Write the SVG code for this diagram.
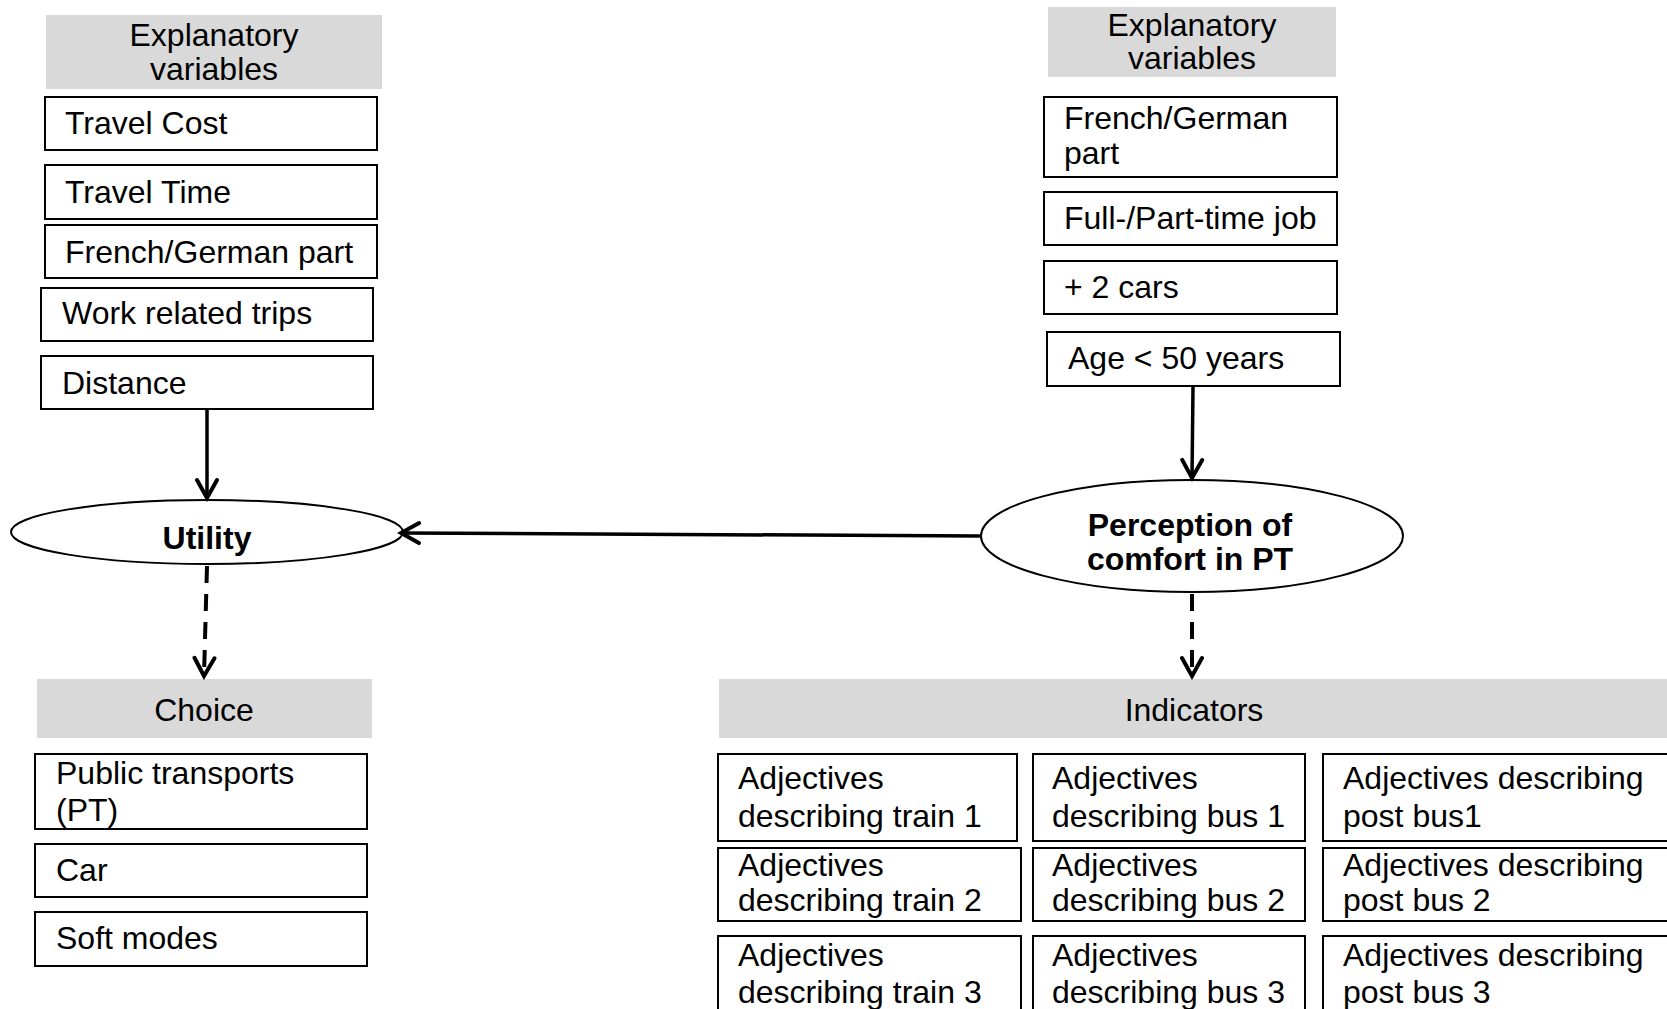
<svg xmlns="http://www.w3.org/2000/svg" width="1667" height="1009" viewBox="0 0 1667 1009">
  <style>
    text { font-family: "Liberation Sans", Arial, sans-serif; font-size: 32px; fill: #000; }
    .head { fill: #d9d9d9; stroke: none; }
    .box { fill: #fff; stroke: #000; stroke-width: 2; }
    .oval { fill: #fff; stroke: #000; stroke-width: 2; }
    .c { text-anchor: middle; }
    .b { font-weight: bold; }
    .link { fill: none; stroke: #000; stroke-width: 3.5; }
    .dash { stroke-width: 4; stroke-dasharray: 17 11; }
  </style>
  <defs>
    <marker id="chevron" markerUnits="userSpaceOnUse" viewBox="-24 -14 28 28" markerWidth="28" markerHeight="28" refX="0" refY="0" orient="auto">
      <path d="M-18,-10 L0,0 L-18,10" fill="none" stroke="#000" stroke-width="4" stroke-linecap="round" stroke-linejoin="miter"/>
    </marker>
  </defs>

  <rect width="1667" height="1009" fill="#fff"/>

  <!-- left column: explanatory variables of the utility -->
  <g id="left-header">
    <rect class="head" x="46" y="15" width="336" height="74"/>
    <text class="c" x="214" y="46">Explanatory</text>
    <text class="c" x="214" y="80">variables</text>
  </g>
  <g id="travel-cost">
    <rect class="box" x="45" y="97" width="332" height="53"/>
    <text x="65" y="134">Travel Cost</text>
  </g>
  <g id="travel-time">
    <rect class="box" x="45" y="165" width="332" height="54"/>
    <text x="65" y="203">Travel Time</text>
  </g>
  <g id="language-part-left">
    <rect class="box" x="45" y="225" width="332" height="53"/>
    <text x="65" y="263">French/German part</text>
  </g>
  <g id="work-trips">
    <rect class="box" x="41" y="288" width="332" height="53"/>
    <text x="62" y="324">Work related trips</text>
  </g>
  <g id="distance">
    <rect class="box" x="41" y="356" width="332" height="53"/>
    <text x="62" y="394">Distance</text>
  </g>

  <!-- right column: explanatory variables of the latent perception -->
  <g id="right-header">
    <rect class="head" x="1048" y="7" width="288" height="70"/>
    <text class="c" x="1192" y="36">Explanatory</text>
    <text class="c" x="1192" y="69">variables</text>
  </g>
  <g id="language-part-right">
    <rect class="box" x="1044" y="97" width="293" height="80"/>
    <text x="1064" y="129">French/German</text>
    <text x="1064" y="164">part</text>
  </g>
  <g id="job-type">
    <rect class="box" x="1044" y="192" width="293" height="53"/>
    <text x="1064" y="229">Full-/Part-time job</text>
  </g>
  <g id="cars">
    <rect class="box" x="1044" y="261" width="293" height="53"/>
    <text x="1064" y="298">+ 2 cars</text>
  </g>
  <g id="age">
    <rect class="box" x="1047" y="332" width="293" height="54"/>
    <text x="1068" y="369">Age &lt; 50 years</text>
  </g>

  <!-- latent nodes -->
  <g id="utility">
    <ellipse class="oval" cx="207" cy="532" rx="196" ry="32"/>
    <text class="c b" x="207" y="549">Utility</text>
  </g>
  <g id="perception">
    <ellipse class="oval" cx="1192" cy="536" rx="211" ry="56"/>
    <text class="c b" x="1190" y="536">Perception of</text>
    <text class="c b" x="1190" y="570">comfort in PT</text>
  </g>

  <!-- choice block -->
  <g id="choice-header">
    <rect class="head" x="37" y="679" width="335" height="59"/>
    <text class="c" x="204" y="721">Choice</text>
  </g>
  <g id="choice-pt">
    <rect class="box" x="35" y="754" width="332" height="75"/>
    <text x="56" y="784">Public transports</text>
    <text x="56" y="821">(PT)</text>
  </g>
  <g id="choice-car">
    <rect class="box" x="35" y="844" width="332" height="53"/>
    <text x="56" y="881">Car</text>
  </g>
  <g id="choice-soft">
    <rect class="box" x="35" y="912" width="332" height="54"/>
    <text x="56" y="949">Soft modes</text>
  </g>

  <!-- indicator block -->
  <g id="indicators-header">
    <rect class="head" x="719" y="679" width="960" height="59"/>
    <text class="c" x="1194" y="721">Indicators</text>
  </g>
  <g id="train-1">
    <rect class="box" x="718" y="754" width="299" height="87"/>
    <text x="738" y="789">Adjectives</text>
    <text x="738" y="827">describing train 1</text>
  </g>
  <g id="train-2">
    <rect class="box" x="718" y="848" width="303" height="73"/>
    <text x="738" y="876">Adjectives</text>
    <text x="738" y="911">describing train 2</text>
  </g>
  <g id="train-3">
    <rect class="box" x="718" y="936" width="303" height="90"/>
    <text x="738" y="966">Adjectives</text>
    <text x="738" y="1003">describing train 3</text>
  </g>
  <g id="bus-1">
    <rect class="box" x="1033" y="754" width="272" height="87"/>
    <text x="1052" y="789">Adjectives</text>
    <text x="1052" y="827">describing bus 1</text>
  </g>
  <g id="bus-2">
    <rect class="box" x="1033" y="848" width="272" height="73"/>
    <text x="1052" y="876">Adjectives</text>
    <text x="1052" y="911">describing bus 2</text>
  </g>
  <g id="bus-3">
    <rect class="box" x="1033" y="936" width="272" height="90"/>
    <text x="1052" y="966">Adjectives</text>
    <text x="1052" y="1003">describing bus 3</text>
  </g>
  <g id="post-bus-1">
    <rect class="box" x="1323" y="754" width="360" height="87"/>
    <text x="1343" y="789">Adjectives describing</text>
    <text x="1343" y="827">post bus1</text>
  </g>
  <g id="post-bus-2">
    <rect class="box" x="1323" y="848" width="360" height="73"/>
    <text x="1343" y="876">Adjectives describing</text>
    <text x="1343" y="911">post bus 2</text>
  </g>
  <g id="post-bus-3">
    <rect class="box" x="1323" y="936" width="360" height="90"/>
    <text x="1343" y="966">Adjectives describing</text>
    <text x="1343" y="1003">post bus 3</text>
  </g>

  <!-- connectors -->
  <g id="connectors">
    <line class="link" x1="207" y1="410" x2="207" y2="498" marker-end="url(#chevron)"/>
    <line class="link" x1="1193" y1="387" x2="1192" y2="478" marker-end="url(#chevron)"/>
    <line class="link" x1="980" y1="536" x2="401" y2="533" marker-end="url(#chevron)"/>
    <line class="link dash" x1="207" y1="566" x2="204" y2="676" marker-end="url(#chevron)"/>
    <line class="link dash" x1="1192" y1="594" x2="1192" y2="676" marker-end="url(#chevron)"/>
  </g>
</svg>
